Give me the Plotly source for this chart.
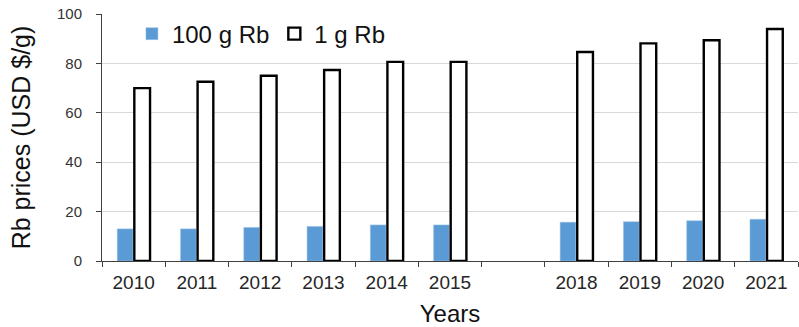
import plotly.graph_objects as go

years = ["2010", "2011", "2012", "2013", "2014", "2015", " ", "2018", "2019", "2020", "2021"]
price_100g = [13.0, 13.0, 13.6, 14.0, 14.6, 14.6, None, 15.7, 15.9, 16.3, 16.9]
price_1g = [70.0, 72.6, 75.0, 77.3, 80.6, 80.6, None, 84.6, 88.1, 89.4, 93.9]

fig = go.Figure()
fig.add_trace(go.Bar(x=years, y=price_100g, name="100 g Rb",
                     marker=dict(color="#5b9bd5", line=dict(color="#9dc3e6", width=0.5))))
fig.add_trace(go.Bar(x=years, y=price_1g, name="1 g Rb",
                     marker=dict(color="white", line=dict(color="black", width=2.4))))

fig.update_layout(
    width=799, height=327,
    margin=dict(l=102, r=1, t=14, b=66, autoexpand=False),
    plot_bgcolor="white", paper_bgcolor="white",
    font=dict(family="Liberation Sans, Arial, sans-serif", color="#262626"),
    barmode="group", bargap=0.46, bargroupgap=0.08,
    showlegend=True,
    legend=dict(orientation="h", x=0.043, y=1.01, xanchor="left", yanchor="top",
                font=dict(size=24, color="#111"), bgcolor="rgba(0,0,0,0)",
                itemwidth=30, tracegroupgap=0),
)
fig.update_xaxes(
    type="category", categoryorder="array", categoryarray=years,
    automargin=False,
    showline=True, linecolor="#404040", linewidth=1,
    ticks="outside", tickson="boundaries", ticklen=5, tickcolor="#404040",
    ticklabelstandoff=4, ticklabeloverflow="allow",
    tickfont=dict(size=19, color="#262626"),
    title=dict(text="Years", font=dict(size=24, color="#111"), standoff=17),
    showgrid=False,
)
fig.update_yaxes(
    range=[0, 100], dtick=20,
    automargin=False,
    showline=True, linecolor="#404040", linewidth=1,
    ticks="outside", ticklen=5, tickcolor="#404040",
    ticklabelstandoff=11, ticklabeloverflow="allow",
    showgrid=True, gridcolor="#d9d9d9", gridwidth=1,
    tickfont=dict(size=15, color="#333"),
    title=dict(text="Rb prices (USD $/g)", font=dict(size=25, color="#111"), standoff=19),
    zeroline=False,
)

fig.write_html("out.html", config={"displayModeBar": False},
               post_script="document.body.style.margin='0';")
